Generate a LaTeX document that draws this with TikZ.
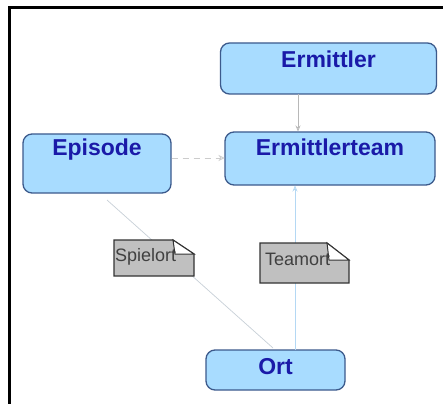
\documentclass[tikz,border=0pt]{standalone}
\usepackage{fontspec}
\setmainfont{Liberation Sans}
\usetikzlibrary{arrows.meta}
\definecolor{boxfill}{HTML}{A8DCFF}
\definecolor{boxdraw}{HTML}{3C5A8C}
\definecolor{txtblue}{HTML}{1A1AA8}
\definecolor{notefill}{HTML}{C0C0C0}
\definecolor{lightline}{HTML}{C8D0D8}
\definecolor{bluelink}{HTML}{B4D8F4}
\tikzset{
  box/.style={draw=boxdraw, line width=1.3pt, fill=boxfill, rounded corners=9pt, inner sep=0pt},
  lbl/.style={text=txtblue, font=\fontsize{23}{24}\selectfont\bfseries, inner sep=0pt},
  notetxt/.style={text=black!75, font=\fontsize{18}{19}\selectfont, inner sep=0pt, anchor=west},
  notebody/.style={draw=black!80, line width=1.2pt, fill=notefill},
  link/.style={line width=0.7pt},
}
\begin{document}
\begin{tikzpicture}[x=1pt,y=-1pt]
\useasboundingbox (0,0) rectangle (443,403);
\fill[white] (0,0) rectangle (443,403);
% frame
\draw[line width=3pt, black] (9,405) -- (9,7.5) -- (445,7.5);
% boxes
\node[box, minimum width=216pt, minimum height=51pt] (erm) at (328.5,68.5) {};
\node[box, minimum width=210pt, minimum height=53pt] (team) at (330,158.5) {};
\node[box, minimum width=148pt, minimum height=59pt] (epi) at (97,163.5) {};
\node[box, minimum width=139pt, minimum height=40pt] (ort) at (275.5,370) {};
\node[lbl] (ermL) at (328.5,59) {Ermittler};
\node[lbl] (teamL) at (330,147) {Ermittlerteam};
\node[lbl] (epiL) at (97,150) {Episode};
\node[lbl] (ortL) at (275.5,367) {Ort};
% connectors
\coordinate (e1) at (298,94.5);
\coordinate (e2) at (298,131.5);
\draw[link, draw=black!28, -{Stealth[length=6pt,width=5pt,open]}] (e1) -- (e2);
\coordinate (d1) at (171.5,158);
\coordinate (d2) at (224.5,158);
\draw[link, draw=black!20, dashed, dash pattern=on 6pt off 5pt, -{Stealth[length=6pt,width=6pt,open]}] (d1) -- (d2);
\coordinate (o1) at (295,350);
\coordinate (o2) at (295,185.5);
\draw[link, draw=bluelink, -{Stealth[length=6pt,width=5pt,open]}] (o1) -- (o2);
\coordinate (p1) at (107,200);
\coordinate (p2) at (273,348);
\draw[link, draw=lightline] (p1) -- (p2);
% notes
\draw[notebody] (114,240) -- (173,240) -- (194,254) -- (194,276) -- (114,276) -- cycle;
\draw[line width=1pt, black!80, fill=white] (173,240) -- (175,254) -- (194,254) -- cycle;
\node[notetxt] (spiel) at (115,257) {Spielort};
\draw[notebody] (260,243) -- (327,243) -- (349,260) -- (349,283) -- (260,283) -- cycle;
\draw[line width=1pt, black!80, fill=white] (327,243) -- (329,260) -- (349,260) -- cycle;
\node[notetxt] (teamort) at (265,259) {Teamort};
\end{tikzpicture}
\end{document}
